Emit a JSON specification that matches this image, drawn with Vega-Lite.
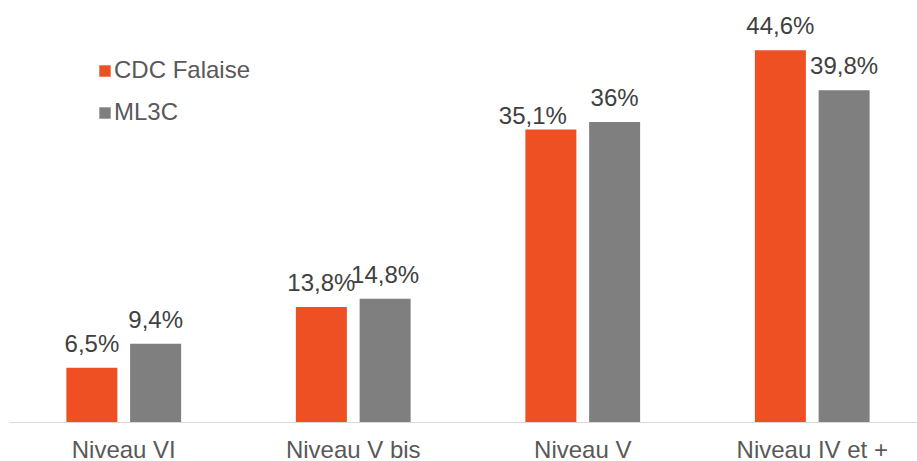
{
  "$schema": "https://vega.github.io/schema/vega-lite/v6.json",
  "autosize": {"type": "none"},
  "width": 908,
  "height": 422,
  "padding": {"left": 9, "top": 0, "right": 0, "bottom": 39},
  "background": "#ffffff",
  "config": {
    "view": {"stroke": null},
    "font": "Liberation Sans",
    "locale": {"number": {"decimal": ",", "thousands": " ", "grouping": [3], "currency": ["", " €"]}}
  },
  "data": {
    "values": [
      {"niveau": "Niveau VI", "serie": "CDC Falaise", "v": 0.065},
      {"niveau": "Niveau VI", "serie": "ML3C", "v": 0.094},
      {"niveau": "Niveau V bis", "serie": "CDC Falaise", "v": 0.138},
      {"niveau": "Niveau V bis", "serie": "ML3C", "v": 0.148},
      {"niveau": "Niveau V", "serie": "CDC Falaise", "v": 0.351},
      {"niveau": "Niveau V", "serie": "ML3C", "v": 0.36},
      {"niveau": "Niveau IV et +", "serie": "CDC Falaise", "v": 0.446},
      {"niveau": "Niveau IV et +", "serie": "ML3C", "v": 0.398}
    ]
  },
  "encoding": {
    "x": {
      "field": "niveau", "type": "nominal", "sort": null,
      "scale": {"range": [0, 918], "paddingInner": 0.5, "paddingOuter": 0.25},
      "axis": {
        "title": null, "labelAngle": 0, "ticks": false,
        "domainColor": "#d9d9d9", "domainWidth": 1.2,
        "labelFontSize": 24, "labelColor": "#595959", "labelFont": "Liberation Sans",
        "labelBaseline": "alphabetic", "labelPadding": 35
      }
    },
    "xOffset": {"field": "serie", "type": "nominal", "scale": {"paddingInner": 0.2, "paddingOuter": 0}},
    "y": {
      "field": "v", "type": "quantitative",
      "scale": {"domain": [0, 0.5064], "nice": false, "zero": true},
      "axis": null
    }
  },
  "layer": [
    {
      "mark": {"type": "bar"},
      "encoding": {
        "color": {
          "field": "serie", "type": "nominal",
          "scale": {"domain": ["CDC Falaise", "ML3C"], "range": ["#EE5024", "#7F7F7F"]},
          "legend": {
            "title": null, "orient": "none", "legendX": 84, "legendY": 59,
            "padding": 0, "symbolType": "square", "symbolSize": 130, "symbolStrokeWidth": 0,
            "labelFontSize": 24, "labelColor": "#595959", "labelFont": "Liberation Sans",
            "labelOffset": -3, "rowPadding": 18, "labelBaseline": "middle"
          }
        }
      }
    },
    {
      "transform": [{"filter": "datum.v != 0.351"}],
      "mark": {"type": "text", "baseline": "alphabetic", "dy": -16, "fontSize": 24, "color": "#404040", "font": "Liberation Sans"},
      "encoding": {"text": {"field": "v", "type": "quantitative", "format": ".1~%"}}
    },
    {
      "transform": [{"filter": "datum.v == 0.351"}],
      "mark": {"type": "text", "baseline": "alphabetic", "dy": -6, "dx": -18, "fontSize": 24, "color": "#404040", "font": "Liberation Sans"},
      "encoding": {"text": {"field": "v", "type": "quantitative", "format": ".1~%"}}
    }
  ]
}
